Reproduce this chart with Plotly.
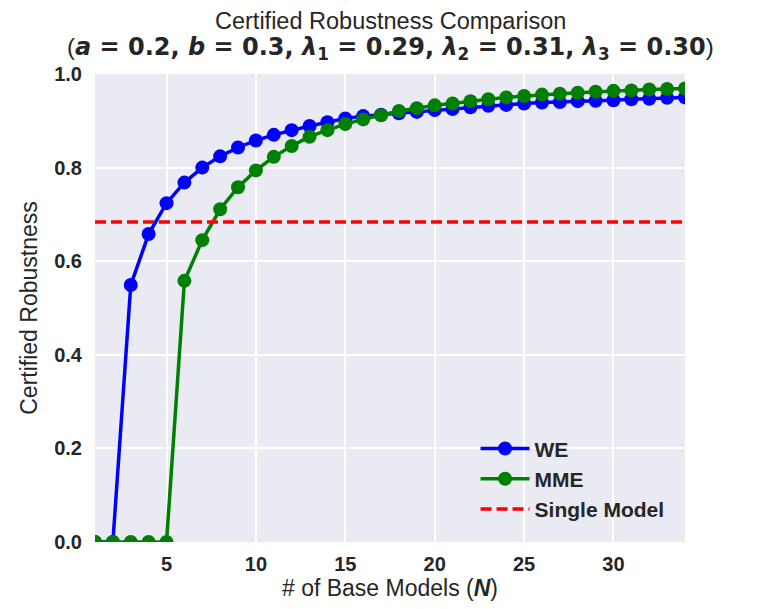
import plotly.graph_objects as go

N = list(range(1, 35))
we = [0.0, 0.0, 0.549, 0.658, 0.724, 0.768, 0.800, 0.824, 0.843, 0.858,
      0.870, 0.880, 0.889, 0.897, 0.905, 0.910, 0.913, 0.916, 0.919, 0.923,
      0.925, 0.929, 0.932, 0.934, 0.937, 0.939, 0.940, 0.942, 0.943, 0.944,
      0.946, 0.947, 0.949, 0.950]
mme = [0.0, 0.0, 0.0, 0.0, 0.0, 0.558, 0.645, 0.711, 0.758, 0.794,
       0.823, 0.846, 0.866, 0.880, 0.893, 0.903, 0.912, 0.921, 0.927, 0.933,
       0.937, 0.942, 0.946, 0.950, 0.953, 0.956, 0.958, 0.960, 0.962, 0.964,
       0.965, 0.967, 0.968, 0.969]
single_model = 0.684
x_ticks = [5, 10, 15, 20, 25, 30]
y_ticks = [0.0, 0.2, 0.4, 0.6, 0.8, 1.0]

TXT = "#262626"
SANS = "Liberation Sans, Arial, sans-serif"
fig = go.Figure()
fig.add_trace(go.Scatter(x=N, y=we, mode="lines+markers", name="WE",
                         line=dict(color="#0000FF", width=3.5),
                         marker=dict(color="#0000FF", size=14), cliponaxis=True))
fig.add_trace(go.Scatter(x=N, y=mme, mode="lines+markers", name="MME",
                         line=dict(color="#008000", width=3.5),
                         marker=dict(color="#008000", size=14), cliponaxis=True))
fig.add_trace(go.Scatter(x=[N[0], N[-1]], y=[single_model, single_model], mode="lines",
                         name="Single Model",
                         line=dict(color="#FF0000", width=3.5, dash="11px,5px")))

fig.update_layout(
    width=753, height=601,
    margin=dict(l=87, r=76, t=66, b=67),
    paper_bgcolor="white", plot_bgcolor="#EAEAF2",
    font=dict(family=SANS, color=TXT),
    showlegend=True,
    legend=dict(x=0.645, y=0.135, xanchor="left", yanchor="middle",
                bgcolor="rgba(0,0,0,0)", borderwidth=0, itemwidth=49,
                font=dict(size=21, family=SANS, color=TXT, weight="bold"),
                tracegroupgap=0),
    annotations=[
        dict(text="Certified Robustness Comparison", xref="paper", yref="paper",
             x=0.5, y=1.0, yshift=53, xanchor="center", yanchor="middle", showarrow=False,
             font=dict(size=23.5, color=TXT, family=SANS)),
        dict(text="(<span style='font-family:DejaVu Sans'><b><i>a</i> = 0.2, <i>b</i> = 0.3, "
                  "<i>λ</i><sub>1</sub> = 0.29, <i>λ</i><sub>2</sub> = 0.31, "
                  "<i>λ</i><sub>3</sub> = 0.30</b></span>)",
             xref="paper", yref="paper", x=0.5, y=1.0, yshift=26,
             xanchor="center", yanchor="middle", showarrow=False,
             font=dict(size=24, color=TXT, family=SANS)),
    ],
)
fig.update_xaxes(range=[1, 34], tickvals=x_ticks, showgrid=True, gridcolor="white",
                 gridwidth=1.8, zeroline=False, showline=False, ticks="",
                 ticklabelstandoff=8,
                 tickfont=dict(size=20, weight="bold", color=TXT, family=SANS),
                 title=dict(text="# of Base Models (<b><i>N</i></b>)",
                            font=dict(size=23, color=TXT, family=SANS), standoff=5))
fig.update_yaxes(range=[0, 1], tickvals=y_ticks, tickformat=".1f", showgrid=True,
                 gridcolor="white", gridwidth=1.8, zeroline=False, showline=False, ticks="",
                 ticklabelstandoff=12,
                 tickfont=dict(size=20, weight="bold", color=TXT, family=SANS),
                 title=dict(text="Certified Robustness",
                            font=dict(size=23, color=TXT, family=SANS), standoff=10))

fig.write_html("out.html")
